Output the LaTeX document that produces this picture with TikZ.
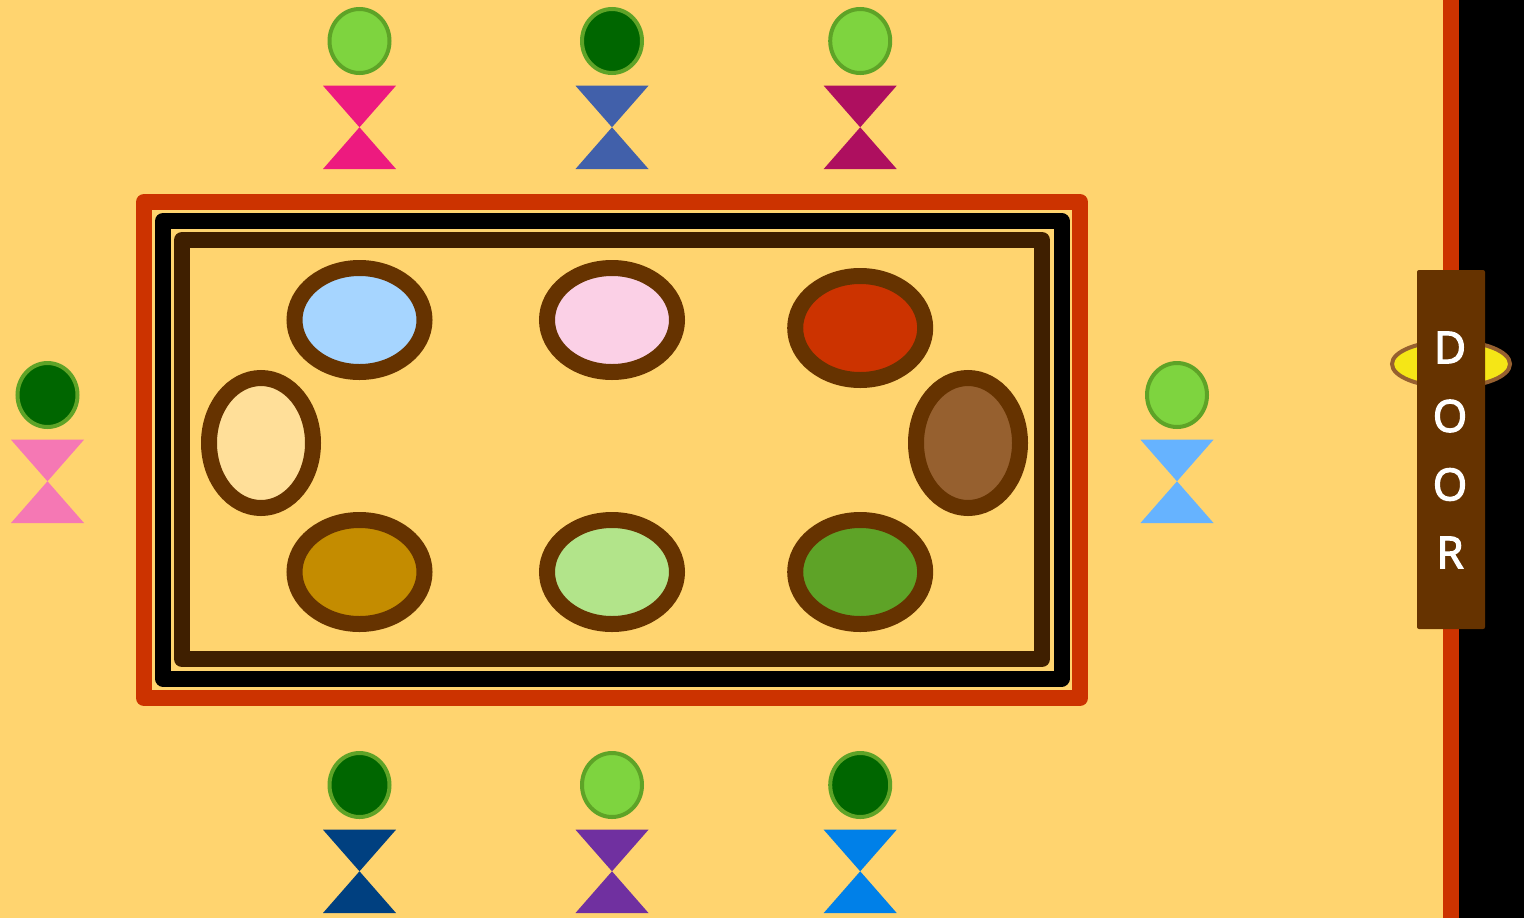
\documentclass[tikz,border=0pt]{standalone}
\usepackage{fontspec}
\setmainfont{Open Sans}
\newfontfamily\doorfont[FakeBold=3]{Open Sans}
\definecolor{bgc}{HTML}{FFD46F}
\definecolor{redc}{HTML}{CC3300}
\definecolor{brownc}{HTML}{663300}
\definecolor{darkb}{HTML}{3F1F00}
\definecolor{headl}{HTML}{7ED43F}
\definecolor{headd}{HTML}{006600}
\definecolor{heads}{HTML}{5EA327}
\definecolor{plateA}{HTML}{A6D5FF}
\definecolor{plateB}{HTML}{FBD0E6}
\definecolor{plateC}{HTML}{CC3300}
\definecolor{plateD}{HTML}{FFDF99}
\definecolor{plateE}{HTML}{96602F}
\definecolor{plateF}{HTML}{C48C00}
\definecolor{plateG}{HTML}{B2E48A}
\definecolor{plateH}{HTML}{5EA327}
\definecolor{bodyA}{HTML}{ED1A7F}
\definecolor{bodyB}{HTML}{4160AA}
\definecolor{bodyC}{HTML}{AE0F5F}
\definecolor{bodyD}{HTML}{F578B4}
\definecolor{bodyE}{HTML}{66B3FF}
\definecolor{bodyF}{HTML}{004080}
\definecolor{bodyG}{HTML}{7030A0}
\definecolor{bodyH}{HTML}{0080E8}
\definecolor{knobc}{HTML}{F5E616}
\definecolor{knobs}{HTML}{96602F}
\tikzset{
 x=0.75pt,y=-0.75pt,
 frame/.style={draw=#1,line width=12pt,line join=round},
 plate/.style={draw=brownc,line width=12pt,fill=#1},
 head/.style={draw=heads,line width=3pt,fill=#1},
 body/.style={fill=#1},
 doorletter/.style={text=white,font=\doorfont\fontsize{33}{33}\selectfont,inner sep=0pt,anchor=center}
}
\newcommand{\person}[4]{%
 \draw[head=#3] (#1,#2) ellipse (30 and 32);
 \fill[body=#4] ({#1-36.5},{#2+44.7}) -- ({#1+36.5},{#2+44.7}) -- (#1,{#2+86.3}) -- cycle;
 \fill[body=#4] ({#1-36.5},{#2+128}) -- ({#1+36.5},{#2+128}) -- (#1,{#2+86.3}) -- cycle;
}
\begin{document}
\begin{tikzpicture}
\useasboundingbox (0,0) rectangle (1524,918);
\fill[bgc] (0,0) rectangle (1524,918);
% wall
\fill[redc] (1443,0) rectangle (1459,918);
\fill[black] (1459,0) rectangle (1524,918);
% table
\draw[frame=redc] (144,202) rectangle (1080,698);
\draw[frame=black] (163,221) rectangle (1061.5,678.5);
\draw[frame=darkb] (182,240) rectangle (1042,659);
% plates
\draw[plate=plateA] (359.5,320) ellipse (65 and 52);
\draw[plate=plateB] (612,320) ellipse (65 and 52);
\draw[plate=plateC] (860.2,328) ellipse (65 and 52);
\draw[plate=plateD] (261,443) ellipse (52 and 65);
\draw[plate=plateE] (968,443) ellipse (52 and 65);
\draw[plate=plateF] (359.5,572) ellipse (65 and 52);
\draw[plate=plateG] (612,572) ellipse (65 and 52);
\draw[plate=plateH] (860.2,572) ellipse (65 and 52);
% people
\person{359.5}{41}{headl}{bodyA}
\person{612}{41}{headd}{bodyB}
\person{860.2}{41}{headl}{bodyC}
\person{47.5}{395}{headd}{bodyD}
\person{1177}{395}{headl}{bodyE}
\person{359.5}{785}{headd}{bodyF}
\person{612}{785}{headl}{bodyG}
\person{860.2}{785}{headd}{bodyH}
% knob and door
\draw[draw=knobs,line width=3pt,fill=knobc] (1451,364) ellipse (59 and 23);
\fill[brownc,rounded corners=1.5pt] (1417,270) rectangle (1485,629);
\node[doorletter] (d1) at (1450,347.5) {D};
\node[doorletter] (d2) at (1450,416) {O};
\node[doorletter] (d3) at (1450,484.5) {O};
\node[doorletter] (d4) at (1450,552.5) {R};
\end{tikzpicture}
\end{document}
